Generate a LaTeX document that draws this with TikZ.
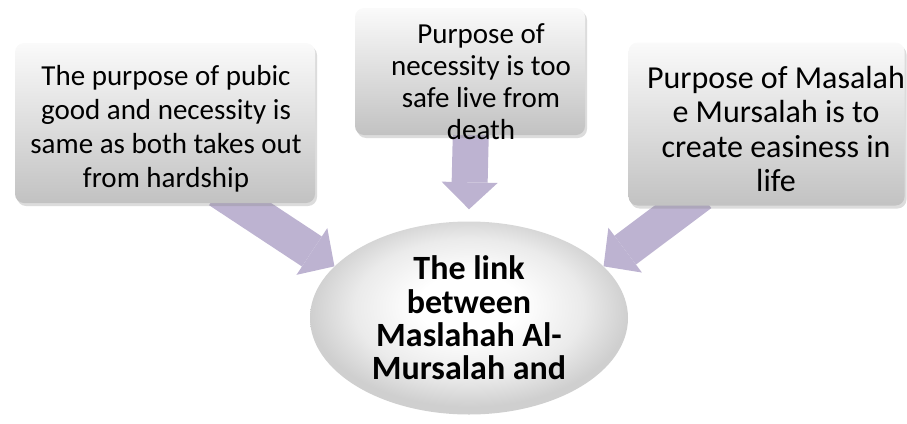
\documentclass[tikz,border=0pt]{standalone}
\usepackage{fontspec}
\setmainfont{Carlito}
\usetikzlibrary{shapes.geometric, arrows.meta, positioning, shadows, backgrounds}
\definecolor{BoxTop}{HTML}{FAFAFA}
\definecolor{BoxBottom}{HTML}{C2C2C2}
\definecolor{LinkEdge}{HTML}{CFCFCF}
\definecolor{ArrowLilac}{HTML}{BDB3D1}
\definecolor{ShadowGray}{HTML}{8A8A8A}
\pgfdeclareradialshading{linkglow}{\pgfpoint{0bp}{4bp}}{%
  color(0bp)=(white); color(8bp)=(white); color(18bp)=(white!92!black);
  color(25bp)=(LinkEdge); color(50bp)=(LinkEdge)}

\begin{document}
\begin{tikzpicture}[
  x=1pt, y=-1pt,
  purposebox/.style={rectangle, rounded corners=9pt, top color=BoxTop, bottom color=BoxBottom,
              draw=none, inner sep=0pt,
              drop shadow={shadow xshift=2pt, shadow yshift=-3pt, opacity=0.3, fill=ShadowGray}},
  purposetext/.style={align=center, inner sep=0pt, font=\fontsize{29}{34}\selectfont},
  linkshape/.style={ellipse, inner sep=0pt, shading=linkglow,
              align=center, font=\fontsize{34}{33.3}\selectfont\bfseries,
              minimum width=318pt, minimum height=193pt},
  blockarr/.style={line width=36pt, color=ArrowLilac,
              -{Triangle[length=27pt, width=56pt, line width=0pt]}}
]
\useasboundingbox (0,0) rectangle (907,423);

\node[linkshape] (link) at (469,318) {The link\\between\\Maslahah Al-\\Mursalah and};

% the three purposes
\node[purposebox, minimum width=300pt, minimum height=160pt] (pubbox) at (165,123) {};
\node[purposetext] (pubtext) at (166,129)
  {The purpose of pubic\\good and necessity is\\same as both takes out\\from hardship};
\node[purposebox, minimum width=230pt, minimum height=127pt] (necbox) at (470,71.5) {};
\node[purposetext, font=\fontsize{29}{32}\selectfont] (nectext) at (481,82)
  {Purpose of\\necessity is too\\safe live from\\death};
\node[purposebox, minimum width=276pt, minimum height=163pt] (lifebox) at (766.5,124) {};
\node[purposetext, font=\fontsize{32}{34.5}\selectfont] (lifetext) at (776,129)
  {Purpose of Masalah\\e Mursalah is to\\create easiness in\\life};

\begin{scope}[on background layer]
  \draw[blockarr] ([xshift=54pt,yshift=13pt]pubbox.south) -- (link.159);
  \draw[blockarr] ([xshift=1pt,yshift=10pt]necbox.south) -- ([yshift=12pt]link.north);
  \draw[blockarr] ([xshift=-66pt,yshift=12pt]lifebox.south) -- (link.21);
\end{scope}

\end{tikzpicture}
\end{document}
